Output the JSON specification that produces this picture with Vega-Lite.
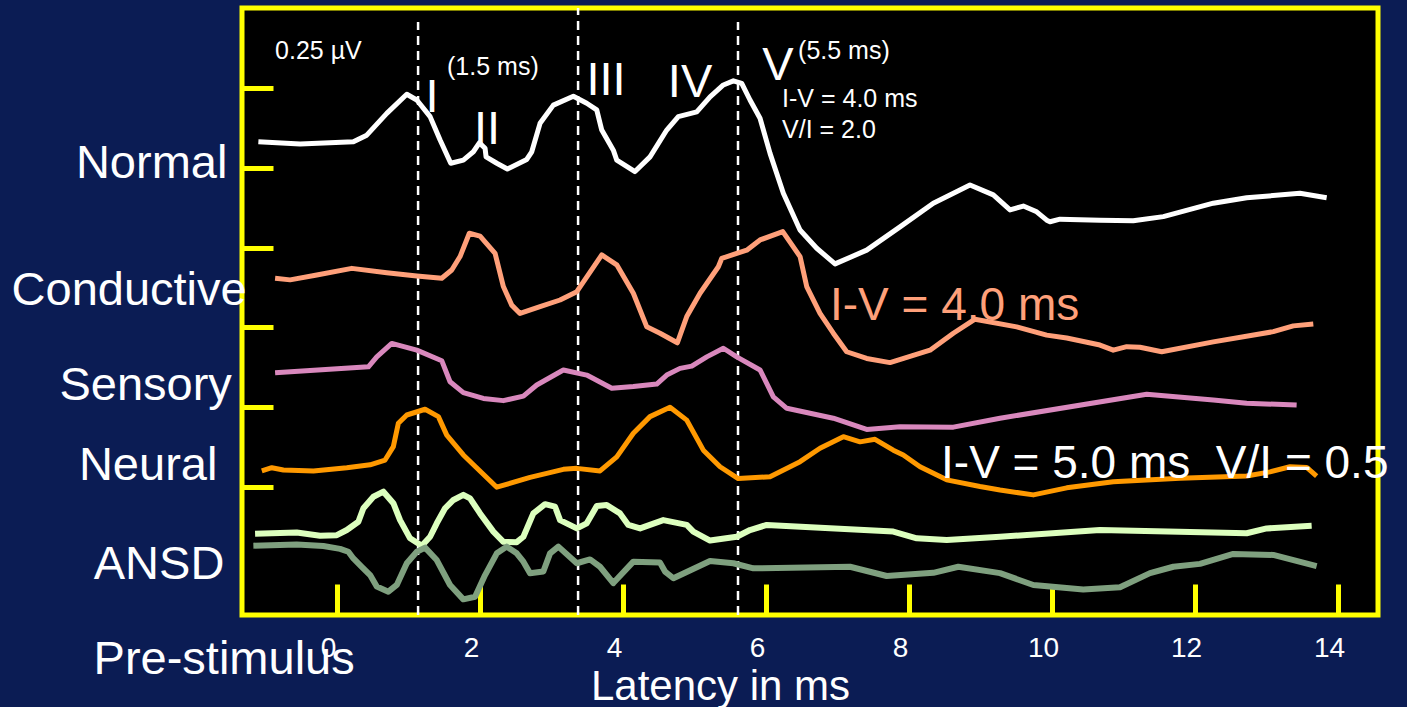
{
  "$schema": "https://vega.github.io/schema/vega-lite/v6.json",
  "width": 1136,
  "height": 607,
  "autosize": "none",
  "padding": {"left": 242, "top": 8, "right": 29, "bottom": 92},
  "background": "#0b1c54",
  "config": {
    "view": {"fill": "#000000", "stroke": "#ffff00", "strokeWidth": 5},
    "font": "Liberation Sans"
  },
  "datasets": {
    "markers": [
      {"t": 1.133, "v": 0.1, "v2": 1.956},
      {"t": 3.371, "v": 0.1, "v2": 2.0},
      {"t": 5.608, "v": 0.1, "v2": 1.956}
    ],
    "traces": [
      {"series": "Normal", "t": -1.101, "v": 1.581},
      {"series": "Normal", "t": -0.517, "v": 1.574},
      {"series": "Normal", "t": 0.228, "v": 1.581},
      {"series": "Normal", "t": 0.415, "v": 1.602},
      {"series": "Normal", "t": 0.695, "v": 1.670},
      {"series": "Normal", "t": 0.975, "v": 1.730},
      {"series": "Normal", "t": 1.115, "v": 1.712},
      {"series": "Normal", "t": 1.301, "v": 1.660},
      {"series": "Normal", "t": 1.441, "v": 1.587},
      {"series": "Normal", "t": 1.590, "v": 1.514},
      {"series": "Normal", "t": 1.766, "v": 1.524},
      {"series": "Normal", "t": 1.906, "v": 1.550},
      {"series": "Normal", "t": 1.990, "v": 1.578},
      {"series": "Normal", "t": 2.070, "v": 1.561},
      {"series": "Normal", "t": 2.084, "v": 1.534},
      {"series": "Normal", "t": 2.234, "v": 1.514},
      {"series": "Normal", "t": 2.382, "v": 1.496},
      {"series": "Normal", "t": 2.653, "v": 1.526},
      {"series": "Normal", "t": 2.723, "v": 1.550},
      {"series": "Normal", "t": 2.839, "v": 1.639},
      {"series": "Normal", "t": 3.025, "v": 1.696},
      {"series": "Normal", "t": 3.305, "v": 1.724},
      {"series": "Normal", "t": 3.492, "v": 1.702},
      {"series": "Normal", "t": 3.632, "v": 1.681},
      {"series": "Normal", "t": 3.702, "v": 1.618},
      {"series": "Normal", "t": 3.864, "v": 1.555},
      {"series": "Normal", "t": 3.912, "v": 1.524},
      {"series": "Normal", "t": 4.167, "v": 1.488},
      {"series": "Normal", "t": 4.377, "v": 1.534},
      {"series": "Normal", "t": 4.611, "v": 1.618},
      {"series": "Normal", "t": 4.773, "v": 1.660},
      {"series": "Normal", "t": 5.031, "v": 1.675},
      {"series": "Normal", "t": 5.217, "v": 1.722},
      {"series": "Normal", "t": 5.403, "v": 1.759},
      {"series": "Normal", "t": 5.543, "v": 1.772},
      {"series": "Normal", "t": 5.660, "v": 1.764},
      {"series": "Normal", "t": 5.776, "v": 1.712},
      {"series": "Normal", "t": 5.916, "v": 1.655},
      {"series": "Normal", "t": 6.056, "v": 1.545},
      {"series": "Normal", "t": 6.242, "v": 1.420},
      {"series": "Normal", "t": 6.475, "v": 1.305},
      {"series": "Normal", "t": 6.709, "v": 1.248},
      {"series": "Normal", "t": 6.965, "v": 1.199},
      {"series": "Normal", "t": 7.408, "v": 1.242},
      {"series": "Normal", "t": 7.874, "v": 1.315},
      {"series": "Normal", "t": 8.340, "v": 1.389},
      {"series": "Normal", "t": 8.853, "v": 1.446},
      {"series": "Normal", "t": 9.179, "v": 1.415},
      {"series": "Normal", "t": 9.413, "v": 1.368},
      {"series": "Normal", "t": 9.599, "v": 1.380},
      {"series": "Normal", "t": 9.786, "v": 1.362},
      {"series": "Normal", "t": 9.926, "v": 1.336},
      {"series": "Normal", "t": 9.972, "v": 1.331},
      {"series": "Normal", "t": 10.112, "v": 1.339},
      {"series": "Normal", "t": 10.671, "v": 1.336},
      {"series": "Normal", "t": 11.137, "v": 1.334},
      {"series": "Normal", "t": 11.557, "v": 1.347},
      {"series": "Normal", "t": 12.256, "v": 1.389},
      {"series": "Normal", "t": 12.723, "v": 1.406},
      {"series": "Normal", "t": 13.468, "v": 1.420},
      {"series": "Normal", "t": 13.842, "v": 1.406},

      {"series": "Conductive", "t": -0.867, "v": 1.154},
      {"series": "Conductive", "t": -0.657, "v": 1.149},
      {"series": "Conductive", "t": -0.284, "v": 1.164},
      {"series": "Conductive", "t": 0.206, "v": 1.185},
      {"series": "Conductive", "t": 0.695, "v": 1.171},
      {"series": "Conductive", "t": 1.115, "v": 1.161},
      {"series": "Conductive", "t": 1.464, "v": 1.154},
      {"series": "Conductive", "t": 1.604, "v": 1.180},
      {"series": "Conductive", "t": 1.720, "v": 1.222},
      {"series": "Conductive", "t": 1.850, "v": 1.295},
      {"series": "Conductive", "t": 2.000, "v": 1.286},
      {"series": "Conductive", "t": 2.210, "v": 1.232},
      {"series": "Conductive", "t": 2.326, "v": 1.128},
      {"series": "Conductive", "t": 2.443, "v": 1.070},
      {"series": "Conductive", "t": 2.559, "v": 1.044},
      {"series": "Conductive", "t": 2.839, "v": 1.065},
      {"series": "Conductive", "t": 3.119, "v": 1.086},
      {"series": "Conductive", "t": 3.353, "v": 1.112},
      {"series": "Conductive", "t": 3.702, "v": 1.227},
      {"series": "Conductive", "t": 3.912, "v": 1.196},
      {"series": "Conductive", "t": 4.144, "v": 1.107},
      {"series": "Conductive", "t": 4.332, "v": 1.002},
      {"series": "Conductive", "t": 4.517, "v": 0.982},
      {"series": "Conductive", "t": 4.759, "v": 0.952},
      {"series": "Conductive", "t": 4.891, "v": 1.034},
      {"series": "Conductive", "t": 5.077, "v": 1.107},
      {"series": "Conductive", "t": 5.333, "v": 1.190},
      {"series": "Conductive", "t": 5.380, "v": 1.216},
      {"series": "Conductive", "t": 5.590, "v": 1.232},
      {"series": "Conductive", "t": 5.730, "v": 1.242},
      {"series": "Conductive", "t": 5.916, "v": 1.274},
      {"series": "Conductive", "t": 6.234, "v": 1.300},
      {"series": "Conductive", "t": 6.476, "v": 1.222},
      {"series": "Conductive", "t": 6.569, "v": 1.128},
      {"series": "Conductive", "t": 6.755, "v": 1.044},
      {"series": "Conductive", "t": 6.941, "v": 0.982},
      {"series": "Conductive", "t": 7.128, "v": 0.924},
      {"series": "Conductive", "t": 7.408, "v": 0.903},
      {"series": "Conductive", "t": 7.734, "v": 0.890},
      {"series": "Conductive", "t": 8.294, "v": 0.929},
      {"series": "Conductive", "t": 8.620, "v": 0.982},
      {"series": "Conductive", "t": 8.923, "v": 1.026},
      {"series": "Conductive", "t": 9.506, "v": 1.002},
      {"series": "Conductive", "t": 9.926, "v": 0.976},
      {"series": "Conductive", "t": 10.206, "v": 0.967},
      {"series": "Conductive", "t": 10.671, "v": 0.945},
      {"series": "Conductive", "t": 10.857, "v": 0.929},
      {"series": "Conductive", "t": 11.045, "v": 0.940},
      {"series": "Conductive", "t": 11.231, "v": 0.938},
      {"series": "Conductive", "t": 11.535, "v": 0.924},
      {"series": "Conductive", "t": 12.256, "v": 0.955},
      {"series": "Conductive", "t": 13.095, "v": 0.987},
      {"series": "Conductive", "t": 13.375, "v": 1.005},
      {"series": "Conductive", "t": 13.655, "v": 1.011},

      {"series": "Sensory", "t": -0.867, "v": 0.858},
      {"series": "Sensory", "t": 0.438, "v": 0.877},
      {"series": "Sensory", "t": 0.555, "v": 0.908},
      {"series": "Sensory", "t": 0.765, "v": 0.950},
      {"series": "Sensory", "t": 1.115, "v": 0.929},
      {"series": "Sensory", "t": 1.464, "v": 0.896},
      {"series": "Sensory", "t": 1.580, "v": 0.830},
      {"series": "Sensory", "t": 1.766, "v": 0.796},
      {"series": "Sensory", "t": 2.046, "v": 0.778},
      {"series": "Sensory", "t": 2.326, "v": 0.771},
      {"series": "Sensory", "t": 2.606, "v": 0.785},
      {"series": "Sensory", "t": 2.793, "v": 0.820},
      {"series": "Sensory", "t": 3.165, "v": 0.867},
      {"series": "Sensory", "t": 3.492, "v": 0.851},
      {"series": "Sensory", "t": 3.842, "v": 0.810},
      {"series": "Sensory", "t": 4.144, "v": 0.815},
      {"series": "Sensory", "t": 4.471, "v": 0.823},
      {"series": "Sensory", "t": 4.611, "v": 0.851},
      {"series": "Sensory", "t": 4.797, "v": 0.872},
      {"series": "Sensory", "t": 4.961, "v": 0.879},
      {"series": "Sensory", "t": 5.171, "v": 0.908},
      {"series": "Sensory", "t": 5.403, "v": 0.935},
      {"series": "Sensory", "t": 5.590, "v": 0.908},
      {"series": "Sensory", "t": 5.916, "v": 0.867},
      {"series": "Sensory", "t": 6.102, "v": 0.783},
      {"series": "Sensory", "t": 6.290, "v": 0.747},
      {"series": "Sensory", "t": 6.941, "v": 0.716},
      {"series": "Sensory", "t": 7.408, "v": 0.681},
      {"series": "Sensory", "t": 7.874, "v": 0.689},
      {"series": "Sensory", "t": 8.620, "v": 0.688},
      {"series": "Sensory", "t": 9.273, "v": 0.716},
      {"series": "Sensory", "t": 11.325, "v": 0.791},
      {"series": "Sensory", "t": 12.256, "v": 0.773},
      {"series": "Sensory", "t": 12.723, "v": 0.763},
      {"series": "Sensory", "t": 13.422, "v": 0.757},

      {"series": "Neural", "t": -1.053, "v": 0.551},
      {"series": "Neural", "t": -0.913, "v": 0.561},
      {"series": "Neural", "t": -0.751, "v": 0.554},
      {"series": "Neural", "t": -0.331, "v": 0.551},
      {"series": "Neural", "t": 0.136, "v": 0.561},
      {"series": "Neural", "t": 0.462, "v": 0.570},
      {"series": "Neural", "t": 0.671, "v": 0.585},
      {"series": "Neural", "t": 0.787, "v": 0.627},
      {"series": "Neural", "t": 0.857, "v": 0.700},
      {"series": "Neural", "t": 0.975, "v": 0.726},
      {"series": "Neural", "t": 1.231, "v": 0.744},
      {"series": "Neural", "t": 1.417, "v": 0.721},
      {"series": "Neural", "t": 1.534, "v": 0.663},
      {"series": "Neural", "t": 1.766, "v": 0.601},
      {"series": "Neural", "t": 2.234, "v": 0.500},
      {"series": "Neural", "t": 2.699, "v": 0.531},
      {"series": "Neural", "t": 3.165, "v": 0.556},
      {"series": "Neural", "t": 3.353, "v": 0.559},
      {"series": "Neural", "t": 3.678, "v": 0.551},
      {"series": "Neural", "t": 3.912, "v": 0.595},
      {"series": "Neural", "t": 4.144, "v": 0.669},
      {"series": "Neural", "t": 4.377, "v": 0.721},
      {"series": "Neural", "t": 4.657, "v": 0.750},
      {"series": "Neural", "t": 4.891, "v": 0.710},
      {"series": "Neural", "t": 5.123, "v": 0.616},
      {"series": "Neural", "t": 5.357, "v": 0.564},
      {"series": "Neural", "t": 5.611, "v": 0.527},
      {"series": "Neural", "t": 6.056, "v": 0.533},
      {"series": "Neural", "t": 6.476, "v": 0.580},
      {"series": "Neural", "t": 6.755, "v": 0.622},
      {"series": "Neural", "t": 7.081, "v": 0.658},
      {"series": "Neural", "t": 7.315, "v": 0.642},
      {"series": "Neural", "t": 7.524, "v": 0.650},
      {"series": "Neural", "t": 7.780, "v": 0.616},
      {"series": "Neural", "t": 7.920, "v": 0.601},
      {"series": "Neural", "t": 8.154, "v": 0.564},
      {"series": "Neural", "t": 8.527, "v": 0.523},
      {"series": "Neural", "t": 8.993, "v": 0.502},
      {"series": "Neural", "t": 9.273, "v": 0.491},
      {"series": "Neural", "t": 9.739, "v": 0.476},
      {"series": "Neural", "t": 10.206, "v": 0.498},
      {"series": "Neural", "t": 10.857, "v": 0.517},
      {"series": "Neural", "t": 11.790, "v": 0.528},
      {"series": "Neural", "t": 12.723, "v": 0.535},
      {"series": "Neural", "t": 13.049, "v": 0.548},
      {"series": "Neural", "t": 13.329, "v": 0.564},
      {"series": "Neural", "t": 13.562, "v": 0.562},
      {"series": "Neural", "t": 13.702, "v": 0.535},

      {"series": "ANSD condensation", "t": -1.147, "v": 0.354},
      {"series": "ANSD condensation", "t": -0.564, "v": 0.358},
      {"series": "ANSD condensation", "t": -0.238, "v": 0.348},
      {"series": "ANSD condensation", "t": -0.004, "v": 0.350},
      {"series": "ANSD condensation", "t": 0.136, "v": 0.366},
      {"series": "ANSD condensation", "t": 0.298, "v": 0.392},
      {"series": "ANSD condensation", "t": 0.368, "v": 0.434},
      {"series": "ANSD condensation", "t": 0.508, "v": 0.470},
      {"series": "ANSD condensation", "t": 0.648, "v": 0.486},
      {"series": "ANSD condensation", "t": 0.787, "v": 0.450},
      {"series": "ANSD condensation", "t": 0.881, "v": 0.397},
      {"series": "ANSD condensation", "t": 1.021, "v": 0.340},
      {"series": "ANSD condensation", "t": 1.185, "v": 0.317},
      {"series": "ANSD condensation", "t": 1.301, "v": 0.345},
      {"series": "ANSD condensation", "t": 1.394, "v": 0.387},
      {"series": "ANSD condensation", "t": 1.510, "v": 0.434},
      {"series": "ANSD condensation", "t": 1.627, "v": 0.460},
      {"series": "ANSD condensation", "t": 1.766, "v": 0.476},
      {"series": "ANSD condensation", "t": 1.860, "v": 0.465},
      {"series": "ANSD condensation", "t": 2.000, "v": 0.418},
      {"series": "ANSD condensation", "t": 2.186, "v": 0.361},
      {"series": "ANSD condensation", "t": 2.326, "v": 0.329},
      {"series": "ANSD condensation", "t": 2.513, "v": 0.328},
      {"series": "ANSD condensation", "t": 2.606, "v": 0.345},
      {"series": "ANSD condensation", "t": 2.745, "v": 0.418},
      {"series": "ANSD condensation", "t": 2.909, "v": 0.447},
      {"series": "ANSD condensation", "t": 3.049, "v": 0.439},
      {"series": "ANSD condensation", "t": 3.119, "v": 0.397},
      {"series": "ANSD condensation", "t": 3.353, "v": 0.371},
      {"series": "ANSD condensation", "t": 3.492, "v": 0.387},
      {"series": "ANSD condensation", "t": 3.632, "v": 0.441},
      {"series": "ANSD condensation", "t": 3.772, "v": 0.444},
      {"series": "ANSD condensation", "t": 3.958, "v": 0.418},
      {"series": "ANSD condensation", "t": 4.074, "v": 0.382},
      {"series": "ANSD condensation", "t": 4.238, "v": 0.371},
      {"series": "ANSD condensation", "t": 4.563, "v": 0.397},
      {"series": "ANSD condensation", "t": 4.891, "v": 0.382},
      {"series": "ANSD condensation", "t": 4.983, "v": 0.361},
      {"series": "ANSD condensation", "t": 5.217, "v": 0.333},
      {"series": "ANSD condensation", "t": 5.590, "v": 0.345},
      {"series": "ANSD condensation", "t": 5.776, "v": 0.366},
      {"series": "ANSD condensation", "t": 6.010, "v": 0.382},
      {"series": "ANSD condensation", "t": 7.780, "v": 0.361},
      {"series": "ANSD condensation", "t": 8.108, "v": 0.340},
      {"series": "ANSD condensation", "t": 8.527, "v": 0.335},
      {"series": "ANSD condensation", "t": 9.273, "v": 0.345},
      {"series": "ANSD condensation", "t": 10.671, "v": 0.366},
      {"series": "ANSD condensation", "t": 12.723, "v": 0.356},
      {"series": "ANSD condensation", "t": 13.003, "v": 0.371},
      {"series": "ANSD condensation", "t": 13.632, "v": 0.379},

      {"series": "ANSD rarefaction", "t": -1.171, "v": 0.317},
      {"series": "ANSD rarefaction", "t": -0.564, "v": 0.321},
      {"series": "ANSD rarefaction", "t": -0.192, "v": 0.316},
      {"series": "ANSD rarefaction", "t": 0.042, "v": 0.307},
      {"series": "ANSD rarefaction", "t": 0.158, "v": 0.298},
      {"series": "ANSD rarefaction", "t": 0.228, "v": 0.277},
      {"series": "ANSD rarefaction", "t": 0.345, "v": 0.251},
      {"series": "ANSD rarefaction", "t": 0.462, "v": 0.225},
      {"series": "ANSD rarefaction", "t": 0.555, "v": 0.189},
      {"series": "ANSD rarefaction", "t": 0.717, "v": 0.173},
      {"series": "ANSD rarefaction", "t": 0.835, "v": 0.194},
      {"series": "ANSD rarefaction", "t": 0.975, "v": 0.262},
      {"series": "ANSD rarefaction", "t": 1.115, "v": 0.298},
      {"series": "ANSD rarefaction", "t": 1.231, "v": 0.311},
      {"series": "ANSD rarefaction", "t": 1.394, "v": 0.272},
      {"series": "ANSD rarefaction", "t": 1.580, "v": 0.194},
      {"series": "ANSD rarefaction", "t": 1.766, "v": 0.149},
      {"series": "ANSD rarefaction", "t": 1.930, "v": 0.157},
      {"series": "ANSD rarefaction", "t": 2.070, "v": 0.225},
      {"series": "ANSD rarefaction", "t": 2.234, "v": 0.293},
      {"series": "ANSD rarefaction", "t": 2.373, "v": 0.314},
      {"series": "ANSD rarefaction", "t": 2.513, "v": 0.293},
      {"series": "ANSD rarefaction", "t": 2.606, "v": 0.267},
      {"series": "ANSD rarefaction", "t": 2.699, "v": 0.231},
      {"series": "ANSD rarefaction", "t": 2.885, "v": 0.236},
      {"series": "ANSD rarefaction", "t": 2.979, "v": 0.293},
      {"series": "ANSD rarefaction", "t": 3.095, "v": 0.314},
      {"series": "ANSD rarefaction", "t": 3.353, "v": 0.262},
      {"series": "ANSD rarefaction", "t": 3.538, "v": 0.274},
      {"series": "ANSD rarefaction", "t": 3.678, "v": 0.251},
      {"series": "ANSD rarefaction", "t": 3.864, "v": 0.200},
      {"series": "ANSD rarefaction", "t": 4.144, "v": 0.267},
      {"series": "ANSD rarefaction", "t": 4.517, "v": 0.264},
      {"series": "ANSD rarefaction", "t": 4.587, "v": 0.236},
      {"series": "ANSD rarefaction", "t": 4.704, "v": 0.215},
      {"series": "ANSD rarefaction", "t": 5.217, "v": 0.269},
      {"series": "ANSD rarefaction", "t": 5.543, "v": 0.262},
      {"series": "ANSD rarefaction", "t": 5.823, "v": 0.246},
      {"series": "ANSD rarefaction", "t": 7.175, "v": 0.251},
      {"series": "ANSD rarefaction", "t": 7.688, "v": 0.222},
      {"series": "ANSD rarefaction", "t": 8.340, "v": 0.232},
      {"series": "ANSD rarefaction", "t": 8.690, "v": 0.251},
      {"series": "ANSD rarefaction", "t": 9.273, "v": 0.231},
      {"series": "ANSD rarefaction", "t": 9.739, "v": 0.194},
      {"series": "ANSD rarefaction", "t": 10.437, "v": 0.180},
      {"series": "ANSD rarefaction", "t": 10.951, "v": 0.187},
      {"series": "ANSD rarefaction", "t": 11.371, "v": 0.231},
      {"series": "ANSD rarefaction", "t": 11.697, "v": 0.251},
      {"series": "ANSD rarefaction", "t": 12.070, "v": 0.260},
      {"series": "ANSD rarefaction", "t": 12.536, "v": 0.291},
      {"series": "ANSD rarefaction", "t": 13.095, "v": 0.288},
      {"series": "ANSD rarefaction", "t": 13.702, "v": 0.253}
    ],
    "rowLabels": [
      {"label": "Normal", "t": -2.594, "v": 1.468},
      {"label": "Conductive", "t": -2.909, "v": 1.070},
      {"label": "Sensory", "t": -2.678, "v": 0.773},
      {"label": "Neural", "t": -2.643, "v": 0.523},
      {"label": "ANSD", "t": -2.490, "v": 0.213},
      {"label": "Pre-stimulus", "t": -1.580, "v": -0.085}
    ],
    "waves": [
      {"label": "I", "t": 1.329, "v": 1.674},
      {"label": "II", "t": 2.098, "v": 1.574},
      {"label": "III", "t": 3.762, "v": 1.728},
      {"label": "IV", "t": 4.937, "v": 1.721},
      {"label": "V", "t": 6.168, "v": 1.775}
    ],
    "notes": [
      {"label": "0.25 µV", "t": -0.867, "v": 1.840},
      {"label": "(1.5 ms)", "t": 1.538, "v": 1.790},
      {"label": "(5.5 ms)", "t": 6.448, "v": 1.839},
      {"label": "I-V = 4.0 ms", "t": 6.224, "v": 1.691},
      {"label": "V/I = 2.0", "t": 6.224, "v": 1.593}
    ],
    "conductiveNote": [
      {"label": "I-V = 4.0 ms", "t": 6.895, "v": 1.023}
    ],
    "neuralNote": [
      {"label": "I-V = 5.0 ms \u00a0V/I = 0.5", "t": 8.448, "v": 0.529}
    ]
  },
  "encoding": {
    "x": {
      "field": "t",
      "type": "quantitative",
      "scale": {"domain": [-1.33, 14.56], "nice": false, "zero": false},
      "axis": {
        "values": [0, 2, 4, 6, 8, 10, 12, 14],
        "domain": false,
        "grid": false,
        "tickColor": "#ffff00",
        "tickWidth": 5,
        "tickSize": -31,
        "labelColor": "#ffffff",
        "labelFont": "Liberation Sans",
        "labelFontSize": 28,
        "labelOffset": -9,
        "labelPadding": 72,
        "labelBaseline": "alphabetic",
        "labelFlush": false,
        "labelOverlap": false,
        "title": "Latency in ms",
        "titleColor": "#ffffff",
        "titleFont": "Liberation Sans",
        "titleFontSize": 42,
        "titleFontWeight": "normal",
        "titleX": 478,
        "titleY": 84,
        "titleAlign": "center",
        "titleBaseline": "alphabetic"
      }
    },
    "y": {
      "field": "v",
      "type": "quantitative",
      "scale": {"domain": [0.1, 2.0], "nice": false, "zero": false},
      "axis": {
        "values": [0.5, 0.75, 1, 1.25, 1.5, 1.75],
        "domain": false,
        "grid": false,
        "labels": false,
        "title": null,
        "tickColor": "#ffff00",
        "tickWidth": 5,
        "tickSize": -31
      }
    }
  },
  "layer": [
    {
      "data": {"name": "markers"},
      "mark": {"type": "rule", "color": "#ffffff", "strokeWidth": 2.5, "strokeDash": [9, 6]},
      "encoding": {"y2": {"field": "v2"}}
    },
    {
      "data": {"name": "traces"},
      "transform": [{"filter": "indexof(datum.series, 'ANSD') < 0"}],
      "mark": {"type": "line", "strokeWidth": 5, "strokeJoin": "round"},
      "encoding": {
        "color": {
          "field": "series",
          "type": "nominal",
          "scale": {
            "domain": ["Normal", "Conductive", "Sensory", "Neural", "ANSD condensation", "ANSD rarefaction"],
            "range": ["#ffffff", "#ffa07a", "#d988bd", "#ff9900", "#dcffbe", "#7fa07f"]
          },
          "legend": null
        }
      }
    },
    {
      "data": {"name": "traces"},
      "transform": [{"filter": "indexof(datum.series, 'ANSD') >= 0"}],
      "mark": {"type": "line", "strokeWidth": 6, "strokeJoin": "round"},
      "encoding": {
        "color": {"field": "series", "type": "nominal", "legend": null}
      }
    },
    {
      "data": {"name": "rowLabels"},
      "mark": {"type": "text", "color": "#ffffff", "fontSize": 47, "align": "center", "baseline": "alphabetic"},
      "encoding": {"text": {"field": "label"}}
    },
    {
      "data": {"name": "waves"},
      "mark": {"type": "text", "color": "#ffffff", "fontSize": 47, "align": "center", "baseline": "alphabetic"},
      "encoding": {"text": {"field": "label"}}
    },
    {
      "data": {"name": "notes"},
      "mark": {"type": "text", "color": "#ffffff", "fontSize": 25, "align": "left", "baseline": "alphabetic"},
      "encoding": {"text": {"field": "label"}}
    },
    {
      "data": {"name": "conductiveNote"},
      "mark": {"type": "text", "color": "#ffa07a", "fontSize": 46, "align": "left", "baseline": "alphabetic"},
      "encoding": {"text": {"field": "label"}}
    },
    {
      "data": {"name": "neuralNote"},
      "mark": {"type": "text", "color": "#ffffff", "fontSize": 46, "align": "left", "baseline": "alphabetic"},
      "encoding": {"text": {"field": "label"}}
    }
  ]
}
